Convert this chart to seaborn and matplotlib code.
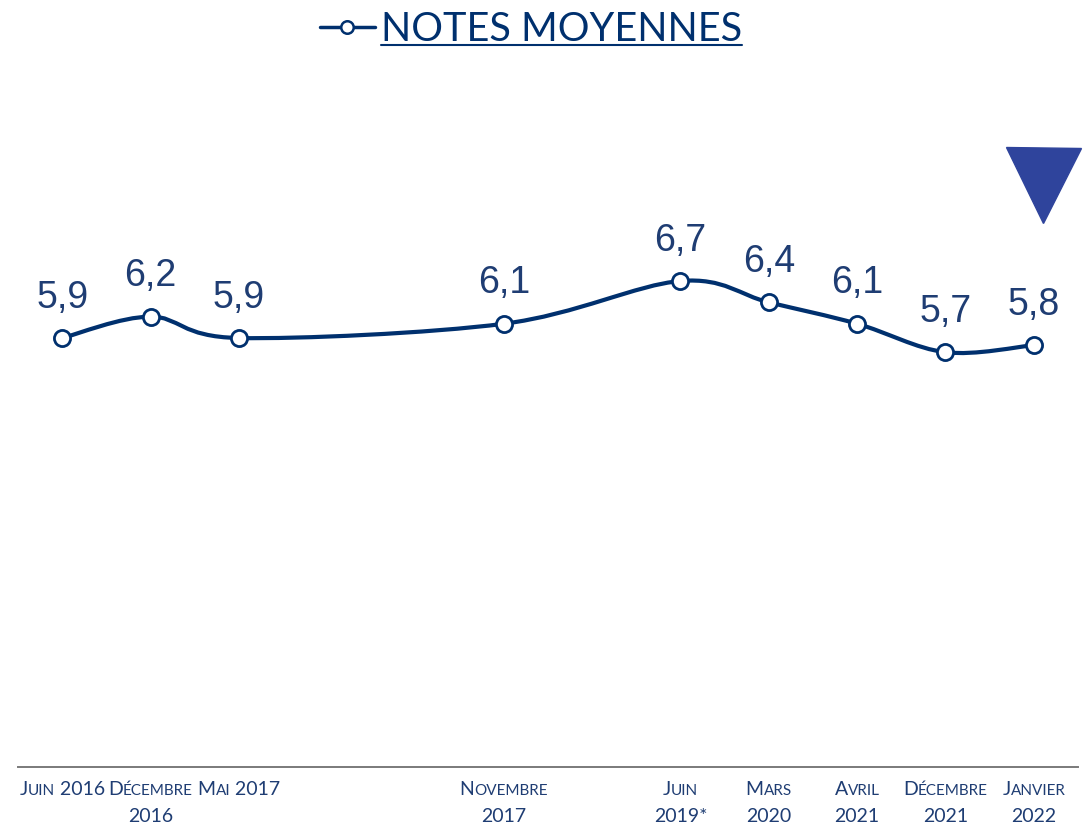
import numpy as np
import matplotlib.pyplot as plt
import seaborn as sns
from matplotlib.path import Path
from matplotlib.patches import PathPatch
from matplotlib.lines import Line2D
from matplotlib.offsetbox import TextArea, HPacker, VPacker, AnnotationBbox

# Données
periodes = ["Juin 2016", "Décembre\n2016", "Mai 2017", "", "", "Novembre\n2017", "",
            "Juin\n2019*", "Mars\n2020", "Avril\n2021", "Décembre\n2021", "Janvier\n2022"]
positions = [0, 1, 2, 5, 7, 8, 9, 10, 11]
notes = [5.9, 6.2, 5.9, 6.1, 6.7, 6.4, 6.1, 5.7, 5.8]
etiquettes = ["5,9", "6,2", "5,9", "6,1", "6,7", "6,4", "6,1", "5,7", "5,8"]

BLEU = "#00306e"
TEXTE = "#1f3d73"
TRIANGLE = "#2f449c"

sns.set_style("white")
plt.rcParams['font.family'] = ['Lato', 'DejaVu Sans']

fig = plt.figure(figsize=(10.89, 8.25), dpi=100)
ax = fig.add_axes([18 / 1089, 58 / 825, (1078 - 18) / 1089, (767 - 100) / 825])
ax.set_xlim(-0.5, 11.5)
ax.set_ylim(-0.12, 9.24)

# courbe lissée (type Excel) : Bézier avec tangentes de Catmull-Rom
pts = np.column_stack([positions, notes]).astype(float)
verts = [pts[0]]
codes = [Path.MOVETO]
n = len(pts)
for i in range(n - 1):
    p0 = pts[max(i - 1, 0)]
    p1 = pts[i]
    p2 = pts[i + 1]
    p3 = pts[min(i + 2, n - 1)]
    c1 = p1 + (p2 - p0) / 6
    c2 = p2 - (p3 - p1) / 6
    verts += [c1, c2, p2]
    codes += [Path.CURVE4] * 3
ax.add_patch(PathPatch(Path(verts, codes), facecolor="none", edgecolor=BLEU,
                       lw=3, capstyle="round", zorder=2))

sns.scatterplot(x=positions, y=notes, ax=ax, s=135, color="white",
                edgecolor=BLEU, linewidth=2, zorder=3, legend=False)

for x, y, lab in zip(positions, notes, etiquettes):
    ax.annotate(lab, (x, y), xytext=(0, 29), textcoords="offset points",
                ha="center", va="center", fontsize=27, color=TEXTE,
                family="Liberation Sans")

# axe
sns.despine(ax=ax, left=True)
ax.spines["bottom"].set_color("#7a7a7a")
ax.spines["bottom"].set_linewidth(1.4)
ax.set_yticks([])
ax.set_xticks(np.arange(-0.5, 12, 1))
ax.set_xticklabels([])
ax.tick_params(axis="x", direction="out", length=6, width=1.4, color="#7a7a7a")


def petites_capitales(ligne):
    morceaux = []
    for ch in ligne:
        grand = not ch.islower()
        if morceaux and morceaux[-1][0] == grand:
            morceaux[-1][1] += ch
        else:
            morceaux.append([grand, ch])
    enfants = [TextArea(t.upper(), textprops=dict(fontsize=14 if g else 11, color=TEXTE))
               for g, t in morceaux]
    return HPacker(children=enfants, align="baseline", pad=0, sep=0)


for i, lab in enumerate(periodes):
    if not lab:
        continue
    lignes = [petites_capitales(l) for l in lab.split("\n")]
    boite = VPacker(children=lignes, align="center", pad=0, sep=7)
    ab = AnnotationBbox(boite, (i, 0), xycoords=ax.get_xaxis_transform(),
                        xybox=(0, -10), boxcoords="offset points",
                        box_alignment=(0.5, 1), frameon=False, pad=0)
    ax.add_artist(ab)

# titre sous forme de légende
poignee = Line2D([], [], color=BLEU, lw=2.5, marker="o", ms=9, mfc="white",
                 mec=BLEU, mew=1.8)
leg = fig.legend(handles=[poignee], labels=["NOTES MOYENNES"], loc="upper center",
                 bbox_to_anchor=(0.4875, 1.03), frameon=False, fontsize=28.5,
                 handlelength=1.4, handletextpad=0.15, labelcolor=BLEU)

# triangle de tendance
fig.add_artist(Line2D([1042.5 / 1089], [1 - 184.5 / 825], marker="v", ms=54,
                      color=TRIANGLE, lw=0, transform=fig.transFigure))

fig.canvas.draw()
bb = leg.get_texts()[0].get_window_extent()
yb = bb.y0 + 3
fig.add_artist(Line2D([bb.x0 / 1089, bb.x1 / 1089], [yb / 825, yb / 825],
                      color=BLEU, lw=1.5, transform=fig.transFigure))

fig.savefig("out.png", dpi=100)
